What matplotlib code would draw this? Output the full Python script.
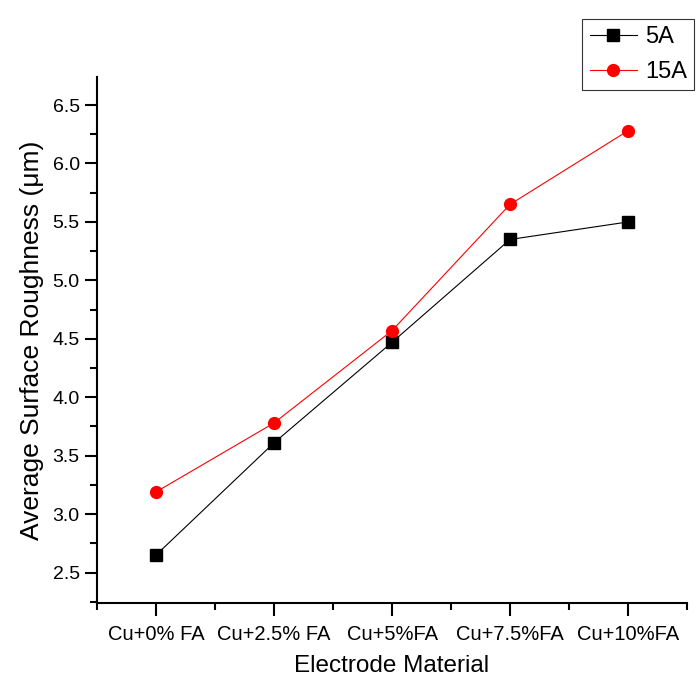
import numpy as np
import matplotlib.pyplot as plt
from matplotlib.ticker import MultipleLocator

# Data
materials = ["Cu+0% FA", "Cu+2.5% FA", "Cu+5%FA", "Cu+7.5%FA", "Cu+10%FA"]
rough_5A = [2.65, 3.61, 4.47, 5.35, 5.50]
rough_15A = [3.19, 3.78, 4.57, 5.65, 6.28]

plt.rcParams['font.family'] = ['Liberation Sans', 'DejaVu Sans']

fig = plt.figure(figsize=(6.97, 6.84), dpi=100)
ax = fig.add_axes([97 / 697, 81 / 684, 590 / 697, 526 / 684])

x = np.arange(len(materials))
ax.plot(x, rough_5A, color="black", linewidth=0.8, marker="s", markersize=8, label="5A")
ax.plot(x, rough_15A, color="red", linewidth=0.8, marker="o", markersize=8.5, label="15A")

# Axis settings
ax.set_xlim(-0.5, 4.5)
ax.set_ylim(2.24, 6.74)
ax.set_xticks(x)
ax.set_xticklabels(materials)
ax.xaxis.set_minor_locator(plt.FixedLocator(np.arange(-0.5, 4.6, 1)))
ax.yaxis.set_major_locator(MultipleLocator(0.5))
ax.yaxis.set_minor_locator(MultipleLocator(0.25))
ax.tick_params(axis='both', which='major', direction='out', length=9, width=1.5, labelsize=14)
ax.tick_params(axis='x', which='major', labelsize=14.5, pad=7)
ax.tick_params(axis='both', which='minor', direction='out', length=5, width=1.5)

for side in ["top", "right"]:
    ax.spines[side].set_visible(False)
for side in ["left", "bottom"]:
    ax.spines[side].set_linewidth(1.5)

ax.set_xlabel("Electrode Material", fontsize=17.5, labelpad=8)
ax.set_ylabel("Average Surface Roughness (\u03bcm)", fontsize=19, labelpad=6)

# Legend
leg = ax.legend(loc="upper right", bbox_to_anchor=(1.012, 1.110), fontsize=17,
                frameon=True, fancybox=False, edgecolor="black", borderpad=0.3,
                handlelength=2.0, handletextpad=0.35, labelspacing=0.55, borderaxespad=0)
leg.get_frame().set_linewidth(0.8)

fig.savefig("out.png", dpi=100)
